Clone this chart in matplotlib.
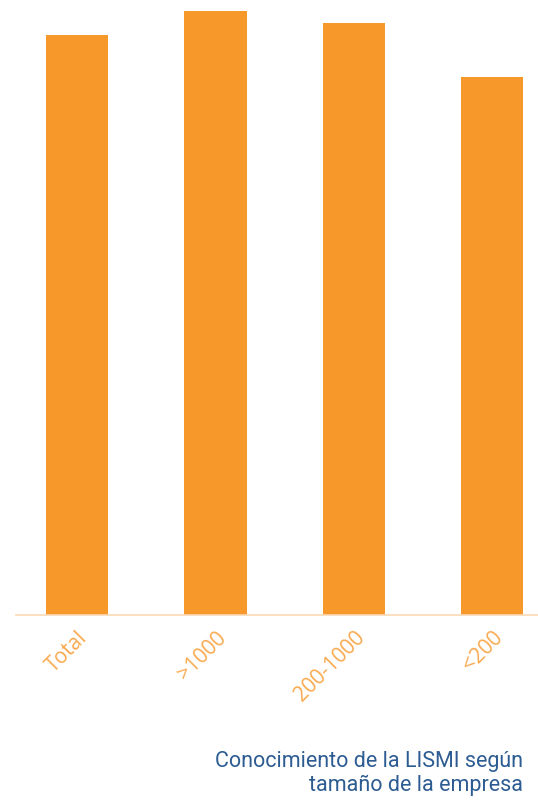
import numpy as np
import matplotlib
matplotlib.use("Agg")
import matplotlib.pyplot as plt

# data
categories = ["Total", ">1000", "200-1000", "<200"]
values = [96, 100, 98, 89]
caption = "Conocimiento de la LISMI según\ntamaño de la empresa"

bar_color = "#f7982a"
axis_color = "#fbd9b5"
label_color = "#f9a94f"
caption_color = "#2d5c92"

fig = plt.figure(figsize=(5.38, 8), dpi=100)
ax = fig.add_axes([16/538, 1 - 615/800, 522/538, 615/800])

x = np.arange(len(categories))
ax.bar(x, values, width=0.45, color=bar_color, zorder=2)

ax.set_xlim(-0.44, 3.33)
ax.set_ylim(0, 100 * 615 / 604)
ax.set_xticks(x)
ax.set_xticklabels(categories, rotation=45, ha="right", rotation_mode="anchor",
                   fontsize=15, color=label_color, family="Open Sans")
ax.tick_params(axis="x", length=0, pad=9)
ax.set_yticks([])
for s in ["top", "left", "right"]:
    ax.spines[s].set_visible(False)
ax.spines["bottom"].set_color(axis_color)
ax.spines["bottom"].set_linewidth(1.2)

fig.text(523/538, 1 - 791/800, caption, ha="right", va="baseline", fontsize=15.5,
         color=caption_color, family="Roboto", linespacing=1.15)

fig.savefig("out.png", dpi=100)
